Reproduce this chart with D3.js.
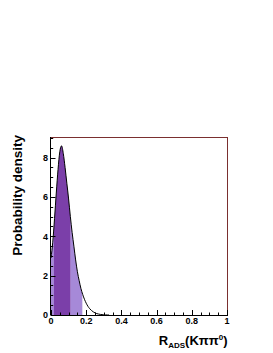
<!DOCTYPE html>
<html><head><meta charset="utf-8">
<script src="https://cdn.jsdelivr.net/npm/d3@7"></script>
<style>body{margin:0;background:#fff}svg{display:block}text{font-family:"Liberation Sans",Arial,sans-serif;font-weight:bold}</style>
</head><body>
<script>
// Probability density curve of R_ADS(Kππ0)
const xValues = [0.00,0.01,0.02,0.03,0.04,0.05,0.06,0.07,0.08,0.09,0.10,0.11,0.12,0.13,0.14,0.15,0.16,0.17,0.18,0.19,0.20,0.21,0.22,0.23,0.24,0.25,0.26,0.27,0.28,0.29,0.30,0.31,0.32,0.33];
const density = [2.9,3.7,4.9,6.2,7.4,8.3,8.6,8.2,7.5,6.7,5.9,5.0,4.2,3.5,2.8,2.2,1.75,1.35,1.05,0.8,0.6,0.44,0.32,0.23,0.16,0.11,0.07,0.05,0.03,0.02,0.01,0.005,0.002,0.0];
// credible-interval bands
const bandFrom = [0.0, 0.017, 0.112];
const bandTo   = [0.017, 0.112, 0.178];
const bandKind = ["outer", "inner", "outer"];
const xTicks = [0, 0.2, 0.4, 0.6, 0.8, 1];
const xTickLabels = ["0", "0.2", "0.4", "0.6", "0.8", "1"];
const yTicks = [0, 2, 4, 6, 8];
const yTickLabels = ["0", "2", "4", "6", "8"];

const W = 273, H = 353;
const m = {l: 51, r: 46, t: 137, b: 38};
const svg = d3.select("body").append("svg").attr("width", W).attr("height", H);
const x = d3.scaleLinear().domain([0, 1]).range([m.l, W - m.r]);
const y = d3.scaleLinear().domain([0, 9.05]).range([H - m.b, m.t]);
const pts = xValues.map((v, i) => [v, density[i]]);
const colors = {inner: "#7b3fa9", outer: "#a689d8"};

const defs = svg.append("defs");
const area = d3.area().x(d => x(d[0])).y0(y(0)).y1(d => y(d[1])).curve(d3.curveMonotoneX);
const line = d3.line().x(d => x(d[0])).y(d => y(d[1])).curve(d3.curveMonotoneX);

bandFrom.forEach((f, i) => {
  defs.append("clipPath").attr("id", "band" + i).append("rect")
    .attr("x", x(f)).attr("y", 0).attr("width", x(bandTo[i]) - x(f)).attr("height", H);
  svg.append("path").datum(pts).attr("d", area)
    .attr("fill", colors[bandKind[i]]).attr("clip-path", `url(#band${i})`);
});
svg.append("path").datum(pts).attr("d", line).attr("fill", "none").attr("stroke", "#000").attr("stroke-width", 1);

// frame
const x0 = x(0), x1 = x(1), y0 = y(0), y1 = m.t;
svg.append("line").attr("x1", x0).attr("x2", x1).attr("y1", y1 + 0.5).attr("y2", y1 + 0.5).attr("stroke", "#7a2f2f");
svg.append("line").attr("x1", x1 + 0.5).attr("x2", x1 + 0.5).attr("y1", y1).attr("y2", y0).attr("stroke", "#7a2f2f");
svg.append("line").attr("x1", x0 - 0.5).attr("x2", x0 - 0.5).attr("y1", y1).attr("y2", y0 + 0.5).attr("stroke", "#000");
svg.append("line").attr("x1", x0).attr("x2", x1 + 1).attr("y1", y0 + 0.5).attr("y2", y0 + 0.5).attr("stroke", "#000");

// x ticks
d3.range(0, 1.0001, 0.05).forEach(v => {
  const major = Math.abs(v * 5 - Math.round(v * 5)) < 1e-6;
  svg.append("line").attr("x1", Math.round(x(v)) + 0.5).attr("x2", Math.round(x(v)) + 0.5)
    .attr("y1", y0).attr("y2", y0 - (major ? 5 : 2.5)).attr("stroke", "#000");
});
xTicks.forEach((v, i) => {
  svg.append("text").attr("x", x(v)).attr("y", y0 + 8.5)
    .attr("text-anchor", "middle").attr("font-size", 9).text(xTickLabels[i]);
});
// y ticks
d3.range(0, 9.0001, 0.5).forEach(v => {
  const major = Math.abs(v / 2 - Math.round(v / 2)) < 1e-6;
  svg.append("line").attr("x1", x0).attr("x2", x0 + (major ? 4.5 : 2.2))
    .attr("y1", Math.round(y(v)) + 0.5).attr("y2", Math.round(y(v)) + 0.5).attr("stroke", "#000");
});
yTicks.forEach((v, i) => {
  svg.append("text").attr("x", x0 - 3).attr("y", y(v) + 3.2)
    .attr("text-anchor", "end").attr("font-size", 9).text(yTickLabels[i]);
});

// axis titles
const xt = svg.append("text").attr("x", x1 + 0.5).attr("y", 344.5).attr("text-anchor", "end").attr("font-size", 13);
xt.append("tspan").text("R");
xt.append("tspan").attr("font-size", 8).attr("dy", 3.5).text("ADS");
xt.append("tspan").attr("dy", -3.5).text("(K\u03c0\u03c0");
xt.append("tspan").attr("font-size", 8).attr("dy", -5).text("0");
xt.append("tspan").attr("dy", 5).text(")");

svg.append("text").attr("transform", "translate(22,135) rotate(-90)")
  .attr("text-anchor", "end").attr("font-size", 13.5).text("Probability density");
</script>
</body></html>
